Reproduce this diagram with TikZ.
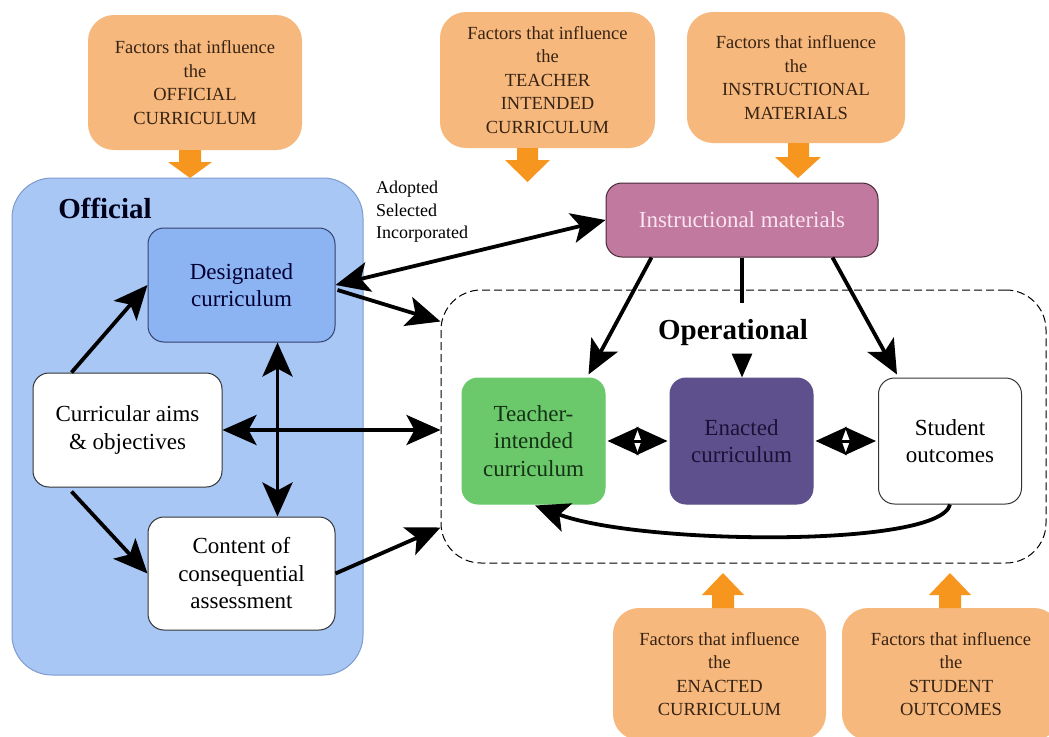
\documentclass[tikz,border=0pt]{standalone}
\usepackage{fontspec}
\setmainfont{Liberation Serif}
\usetikzlibrary{arrows.meta,calc}
\definecolor{orF}{RGB}{246,184,124}
\definecolor{orA}{RGB}{247,150,30}
\definecolor{orT}{RGB}{55,35,20}
\definecolor{offF}{RGB}{168,199,245}
\definecolor{offD}{RGB}{125,155,205}
\definecolor{desF}{RGB}{141,180,242}
\definecolor{desD}{RGB}{50,65,110}
\definecolor{insF}{RGB}{193,121,160}
\definecolor{insD}{RGB}{70,40,55}
\definecolor{insT}{RGB}{250,228,240}
\definecolor{teaF}{RGB}{108,201,107}
\definecolor{teaT}{RGB}{20,50,20}
\definecolor{enaF}{RGB}{94,80,140}
\definecolor{enaT}{RGB}{25,18,55}
\begin{document}
\begin{tikzpicture}[x=1pt,y=-1pt,
  box/.style={draw, line width=1pt, rounded corners=16pt, align=center, inner sep=0pt,
    font=\fontsize{23}{27.5}\selectfont, minimum width=187pt, minimum height=114pt},
  opbox/.style={box, minimum width=143pt, minimum height=126pt},
  factor/.style={fill=orF, rounded corners=26pt, align=center, inner sep=0pt,
    font=\fontsize{18.5}{23.5}\selectfont, text=orT},
  lab/.style={font=\bfseries\fontsize{29}{34}\selectfont, inner sep=0pt},
  arr/.style={line width=3.8pt, -{Stealth[length=34pt,width=30pt,inset=8pt]}},
  darr/.style={line width=3.8pt, {Stealth[length=34pt,width=30pt,inset=8pt]}-{Stealth[length=34pt,width=30pt,inset=8pt]}},
  sarr/.style={line width=3pt, shorten <=2pt, shorten >=2pt, {Stealth[length=31pt,width=28pt,inset=5pt]}-{Stealth[length=31pt,width=28pt,inset=5pt]}},
  orarrow/.style={fill=orA}
]
\useasboundingbox (0,0) rectangle (1049,736);
\fill[white] (0,0) rectangle (1049,736);

% containers
\node[draw=offD, fill=offF, line width=1pt, rounded corners=40pt, minimum width=351pt, minimum height=497pt, inner sep=0pt] (off) at (187.5,426.5) {};
\node[lab, text=black!90!blue] (offlab) at (105,208) {Official};
\node[draw=black, line width=1pt, dash pattern=on 8pt off 4pt, rounded corners=40pt, minimum width=605pt, minimum height=273pt, inner sep=0pt] (oper) at (743.5,426.5) {};
\node[lab] (operlab) at (733,333) {Operational};

% official nodes
\node[box, fill=desF, draw=desD, text=black!80!blue] (desig) at (241.5,285) {Designated\\curriculum};
\node[box, fill=white, draw=black!80, minimum width=189pt] (aims) at (127.5,430) {Curricular aims\\\& objectives};
\node[box, fill=white, draw=black!80, minimum height=113pt] (content) at (241.5,573.5) {Content of\\consequential\\assessment};

% operational nodes
\node[box, fill=insF, draw=insD, text=insT, minimum width=272pt, minimum height=74pt] (instr) at (742,220) {Instructional materials};
\node[opbox, fill=teaF, draw=teaF, text=teaT] (teacher) at (533.5,441) {Teacher-\\intended\\curriculum};
\node[opbox, fill=enaF, draw=enaF, text=enaT] (enacted) at (741.5,441) {Enacted\\curriculum};
\node[opbox, fill=white, draw=black!80] (student) at (950,441) {Student\\outcomes};

% factor boxes
\node[factor, minimum width=214pt, minimum height=135pt] (f1) at (195,82.5) {Factors that influence\\the\\OFFICIAL\\CURRICULUM};
\node[factor, minimum width=215pt, minimum height=136pt] (f2) at (547.5,80) {Factors that influence\\the\\TEACHER\\INTENDED\\CURRICULUM};
\node[factor, minimum width=218pt, minimum height=131pt] (f3) at (796,77.5) {Factors that influence\\the\\INSTRUCTIONAL\\MATERIALS};
\node[factor, minimum width=213pt, minimum height=132pt] (f4) at (719.5,674) {Factors that influence\\the\\ENACTED\\CURRICULUM};
\node[factor, minimum width=218pt, minimum height=132pt] (f5) at (951,674) {Factors that influence\\the\\STUDENT\\OUTCOMES};

% orange arrows
\fill[orarrow] (179,150) -- (201,150) -- (201,162) -- (212,162) -- (190,178) -- (168,162) -- (179,162) -- cycle;
\fill[orarrow] (517,148) -- (538,148) -- (538,160) -- (550,160) -- (527.5,182) -- (505,160) -- (517,160) -- cycle;
\fill[orarrow] (788,143) -- (809,143) -- (809,157) -- (821,157) -- (798,178) -- (775,157) -- (788,157) -- cycle;
\fill[orarrow] (712,608) -- (734,608) -- (734,595) -- (744,595) -- (723,573) -- (702,595) -- (712,595) -- cycle;
\fill[orarrow] (939,608) -- (961,608) -- (961,595) -- (971,595) -- (950,573) -- (929,595) -- (939,595) -- cycle;

% label
\node[anchor=north west, align=left, inner sep=0pt, font=\fontsize{18}{22.5}\selectfont] (ado) at (376,181) {Adopted\\Selected\\Incorporated};

% connectors official
\draw[arr] ($(aims.north west)+(39,0)$) -- (desig.west);
\draw[arr] ($(aims.south west)+(39,4)$) -- (content.west);
\draw[darr] (aims.east) -- (aims.east -| oper.west);
\draw[darr] ($(desig.south)+(36,0)$) -- ($(content.north)+(36,0)$);
\draw[darr] (desig.east) -- (instr.west);
\coordinate (opin) at ($(oper.north west)+(0,32)$);
\draw[arr] ($(desig.east)+(2,5)$) -- (opin);
\coordinate (opin2) at ($(oper.south west)+(0,-36)$);
\draw[arr] (content.east) -- (opin2);

% connectors operational
\draw[arr] ($(instr.south west)+(46,0)$) -- ($(teacher.north east)+(-17,-3)$);
\coordinate (midcut) at ($(instr.south)+(0,45)$);
\coordinate (midstart) at ($(enacted.north)+(0.5,-24)$);
\draw[line width=3.8pt] (instr.south) -- (midcut);
\draw[line width=3pt, -{Stealth[length=24pt,width=20pt,inset=0pt]}] (midstart) -- ($(enacted.north)+(0.5,0)$);
\draw[arr] ($(instr.south east)+(-46,0)$) -- ($(student.north west)+(19,-3)$);
\draw[sarr] (teacher.east) -- (enacted.west);
\draw[sarr] (enacted.east) -- (student.west);
\draw[arr] (student.south) .. controls (940,548) and (640,545) .. ($(teacher.south)+(1.5,1)$);
\end{tikzpicture}
\end{document}
